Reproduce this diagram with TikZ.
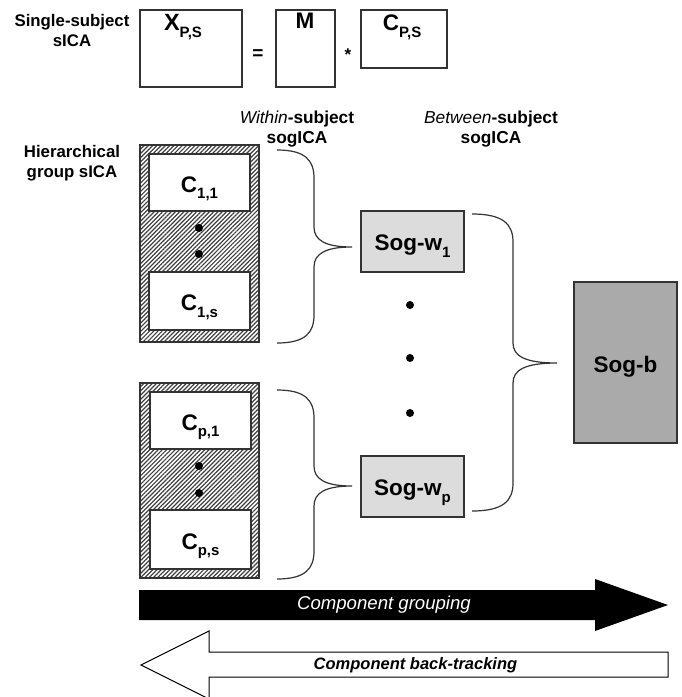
\documentclass[tikz,border=0pt]{standalone}
\usepackage{fontspec}
\setmainfont{Liberation Sans}
\usetikzlibrary{patterns.meta}
\newcommand\sbs[1]{\raisebox{-0.3em}{\fontsize{15}{15}\selectfont #1}}
\definecolor{edge}{HTML}{333333}
\definecolor{lightg}{HTML}{DCDCDC}
\definecolor{darkg}{HTML}{AAAAAA}
\tikzset{
  box/.style={draw=edge, line width=1.1pt, fill=white, inner sep=0pt},
  hatchbox/.style={draw=edge, line width=1.1pt, inner sep=0pt,
    preaction={fill=white},
    pattern={Lines[angle=45,distance=3pt,line width=1.2pt]}, pattern color=black!75},
  lbl/.style={font=\fontsize{22.5}{22.5}\selectfont\bfseries, inner sep=0pt, anchor=base},
  side/.style={font=\fontsize{16.8}{20}\selectfont\bfseries, align=center, inner sep=0pt},
  brc/.style={draw=edge, line width=1.2pt},
  dot/.style={fill=black}
}
\begin{document}
\begin{tikzpicture}[x=1pt,y=-1pt]
\useasboundingbox (0,0) rectangle (681,697);
% top row
\node[side] (ss) at (72,30) {Single-subject\\sICA};
\node[box, minimum width=102pt, minimum height=77pt] (X) at (191,48.5) {};
\node[lbl, font=\fontsize{23.5}{23.5}\selectfont\bfseries] (Xl) at (183,30.5) {X\sbs{P,S}};
\node[lbl, font=\fontsize{19}{19}\selectfont\bfseries] (eq) at (258,59) {=};
\node[box, minimum width=59pt, minimum height=77pt] (M) at (305.5,48.5) {};
\node[lbl] (Ml) at (305,28.5) {M};
\node[lbl, font=\fontsize{17}{17}\selectfont\bfseries] (st) at (348,60) {*};
\node[box, minimum width=86pt, minimum height=58pt] (C) at (404,39) {};
\node[lbl] (Cl) at (402,30.5) {C\sbs{P,S}};

% labels
\node[side] (hg) at (72,163) {Hierarchical\\group sICA};
\node[side, font=\fontsize{17.3}{20.5}\selectfont\bfseries] (ws) at (297,129) {\textit{\mdseries Within}-subject\\sogICA};
\node[side, font=\fontsize{17.3}{20.5}\selectfont\bfseries] (bs) at (491,129) {\textit{\mdseries Between}-subject\\sogICA};

% hatched group 1
\node[hatchbox, minimum width=119pt, minimum height=197pt] (H1) at (199.5,243.5) {};
\node[box, minimum width=101pt, minimum height=57pt] (c11) at (199.5,182.5) {};
\node[lbl] at ([yshift=-9.5pt]c11.center) {C\sbs{1,1}};
\node[box, minimum width=101pt, minimum height=58pt] (c1s) at (199.5,301) {};
\node[lbl] at ([yshift=-9.5pt]c1s.center) {C\sbs{1,s}};
\fill[dot] (199,228) circle (4);
\fill[dot] (199,254) circle (4);

% hatched group 2
\node[hatchbox, minimum width=119pt, minimum height=195pt] (H2) at (199.5,480.5) {};
\node[box, minimum width=101pt, minimum height=57pt] (cp1) at (200.5,420.5) {};
\node[lbl] at ([yshift=-9.5pt]cp1.center) {C\sbs{p,1}};
\node[box, minimum width=101pt, minimum height=59pt] (cps) at (200.5,539.5) {};
\node[lbl] at ([yshift=-9.5pt]cps.center) {C\sbs{p,s}};
\fill[dot] (199,466) circle (4);
\fill[dot] (199,493) circle (4);

% braces
\draw[brc] (277,150) .. controls (305,150) and (314,160) .. (314,178) -- (314,227)
  .. controls (314,240) and (325,247) .. (352,247)
  .. controls (325,247) and (314,254) .. (314,267) -- (314,315)
  .. controls (314,333) and (305,343) .. (277,343);
\draw[brc] (277,390) .. controls (305,390) and (314,400) .. (314,418) -- (314,466)
  .. controls (314,479) and (325,486) .. (352,486)
  .. controls (325,486) and (314,493) .. (314,506) -- (314,551)
  .. controls (314,569) and (305,579) .. (277,579);
\draw[brc] (472,214) .. controls (503,214) and (513,224) .. (513,242) -- (513,343)
  .. controls (513,356) and (525,363) .. (557,363)
  .. controls (525,363) and (513,370) .. (513,383) -- (513,483)
  .. controls (513,501) and (503,511) .. (472,511);

% sog-w boxes
\node[box, fill=lightg, minimum width=103pt, minimum height=61pt] (w1) at (412.5,241.5) {};
\node[lbl] at ([yshift=-9pt]w1.center) {Sog-w\sbs{1}};
\node[box, fill=lightg, minimum width=103pt, minimum height=61pt] (wp) at (412.5,486.5) {};
\node[lbl] at ([yshift=-9pt]wp.center) {Sog-w\sbs{p}};
\fill[dot] (410,305) circle (4);
\fill[dot] (410,358) circle (4);
\fill[dot] (410,413) circle (4);

% sog-b
\node[box, fill=darkg, minimum width=103pt, minimum height=161pt] (sb) at (625.5,362.5) {};
\node[lbl] at ([yshift=-9.5pt]sb.center) {Sog-b};

% arrows
\fill[black] (139,590) -- (595,590) -- (595,579) -- (668,605) -- (595,631) -- (595,620) -- (139,620) -- cycle;
\node[font=\fontsize{18.6}{18.6}\selectfont\itshape, text=white, inner sep=0pt] (cg) at (384,605) {Component grouping};
\draw[black, line width=1pt, fill=white] (668,652) -- (209,652) -- (209,631) -- (141,665) -- (209,699) -- (209,677) -- (668,677) -- cycle;
\node[font=\fontsize{16.5}{16.5}\selectfont\bfseries\itshape, inner sep=0pt] (cb) at (415.5,665) {Component back-tracking};
\end{tikzpicture}
\end{document}
